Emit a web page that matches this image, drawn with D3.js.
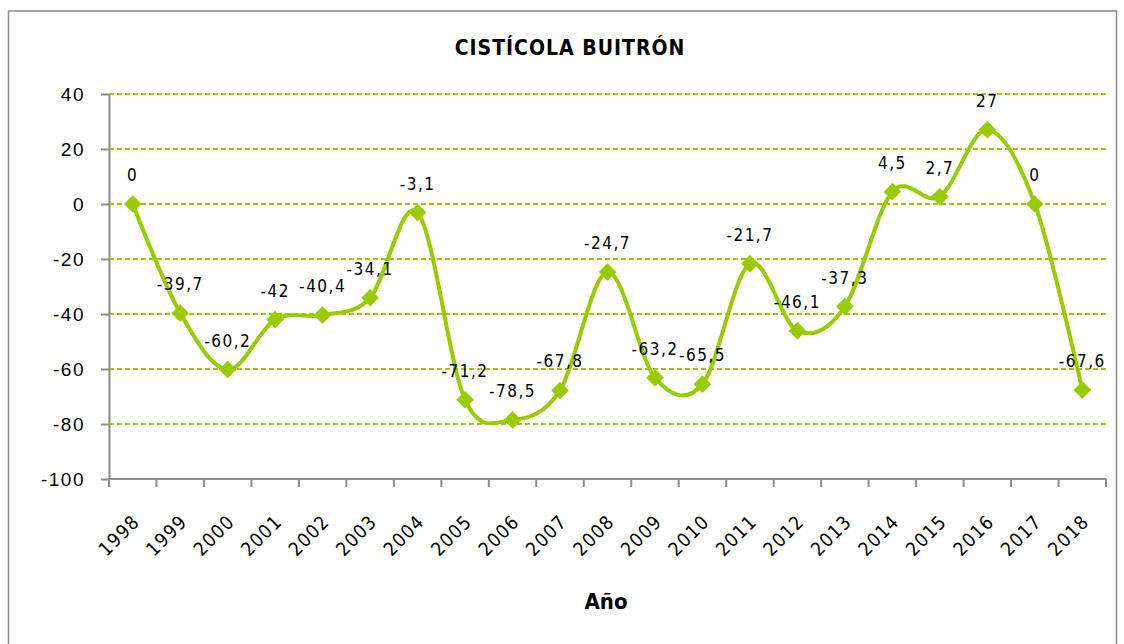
<!DOCTYPE html>
<html>
<head>
<meta charset="utf-8">
<script src="https://cdn.jsdelivr.net/npm/d3@7"></script>
<style>
  body { margin: 0; background: #fff; }
  svg { font-family: "DejaVu Sans Condensed", "DejaVu Sans", sans-serif; }
  .grid line { stroke: #99cc00; stroke-width: 2; stroke-dasharray: 5,3; }
  .axis path, .axis line { stroke: #8c8c8c; stroke-width: 2; }
</style>
</head>
<body>
<div id="chart"></div>
<script>
const years = ['1998', '1999', '2000', '2001', '2002', '2003', '2004', '2005', '2006', '2007',
  '2008', '2009', '2010', '2011', '2012', '2013', '2014', '2015', '2016', '2017', '2018'];
const values = [0, -39.7, -60.2, -42, -40.4, -34.1, -3.1, -71.2, -78.5, -67.8,
  -24.7, -63.2, -65.5, -21.7, -46.1, -37.3, 4.5, 2.7, 27, 0, -67.6];
const yTicks = [-100, -80, -60, -40, -20, 0, 20, 40];

const width = 1124;
const height = 644;
const margin = {top: 94, right: 18, bottom: 165, left: 109};
const color = '#99cc00';

const svg = d3.select('#chart')
  .append('svg')
  .attr('width', width)
  .attr('height', height);

// outer frame
svg.append('rect')
  .attr('x', 8.5)
  .attr('y', 11)
  .attr('width', 1108)
  .attr('height', 640)
  .attr('fill', 'none')
  .attr('stroke', '#8c8c8c')
  .attr('stroke-width', 1.5);

const x = d3.scaleBand()
  .domain(years)
  .range([margin.left, width - margin.right]);

const y = d3.scaleLinear()
  .domain([-100, 40])
  .range([height - margin.bottom, margin.top]);

// grid
svg.append('g')
  .attr('class', 'grid')
  .selectAll('line')
  .data(yTicks.filter(d => d > -100))
  .enter()
  .append('line')
  .attr('x1', margin.left)
  .attr('x2', width - margin.right)
  .attr('y1', d => y(d))
  .attr('y2', d => y(d));

// y axis
let yAxis = svg.append('g')
  .attr('class', 'axis')
  .attr('transform', `translate(${margin.left},0)`)
  .call(d3.axisLeft(y)
    .tickValues(yTicks)
    .tickFormat(d => String(d))
    .tickSize(8)
    .tickSizeOuter(0)
    .tickPadding(16));
yAxis.selectAll('text')
  .attr('font-size', 19)
  .attr('font-family', 'inherit')
  .attr('letter-spacing', 1.5)
  .attr('fill', '#000');

// x axis with ticks between categories
let xAxisG = svg.append('g')
  .attr('class', 'axis')
  .attr('transform', `translate(0,${y(-100)})`);
xAxisG.append('line')
  .attr('x1', margin.left)
  .attr('x2', width - margin.right)
  .attr('y1', 0)
  .attr('y2', 0);
xAxisG.selectAll('.tick')
  .data(years.concat(['end']))
  .enter()
  .append('line')
  .attr('class', 'tick')
  .attr('x1', (d, i) => margin.left + i * x.step())
  .attr('x2', (d, i) => margin.left + i * x.step())
  .attr('y1', 0)
  .attr('y2', 8);
xAxisG.selectAll('.label')
  .data(years)
  .enter()
  .append('text')
  .attr('class', 'label')
  .attr('text-anchor', 'end')
  .attr('font-size', 19)
  .attr('letter-spacing', 1.2)
  .attr('transform', d => `translate(${x(d) + x.bandwidth() / 2 + 8},${44}) rotate(-45)`)
  .text(d => d);

const cx = d => x(d) + x.bandwidth() / 2;
const points = years.map((d, i) => ({year: d, value: values[i]}));

// smoothed line
let line = d3.line()
  .x(d => cx(d.year))
  .y(d => y(d.value))
  .curve(d3.curveCatmullRom.alpha(0));
svg.append('path')
  .datum(points)
  .attr('d', line)
  .attr('fill', 'none')
  .attr('stroke', color)
  .attr('stroke-width', 4);

// diamond markers
svg.selectAll('.marker')
  .data(points)
  .enter()
  .append('path')
  .attr('class', 'marker')
  .attr('d', d3.symbol().type(d3.symbolSquare).size(155))
  .attr('transform', d => `translate(${cx(d.year)},${y(d.value)}) rotate(45)`)
  .attr('fill', color);

// data labels
svg.selectAll('.value')
  .data(points)
  .enter()
  .append('text')
  .attr('class', 'value')
  .attr('x', d => cx(d.year))
  .attr('y', d => y(d.value) - 23)
  .attr('text-anchor', 'middle')
  .attr('font-size', 17)
  .attr('letter-spacing', 1.5)
  .text(d => String(d.value).replace('.', ','));

// title
svg.append('text')
  .attr('x', 570)
  .attr('y', 55)
  .attr('text-anchor', 'middle')
  .attr('font-size', 21)
  .attr('font-weight', 'bold')
  .attr('letter-spacing', 1)
  .text('CISTÍCOLA BUITRÓN');

// x axis title
svg.append('text')
  .attr('x', 606)
  .attr('y', 609)
  .attr('text-anchor', 'middle')
  .attr('font-size', 22)
  .attr('font-weight', 'bold')
  .text('Año');
</script>
</body>
</html>
